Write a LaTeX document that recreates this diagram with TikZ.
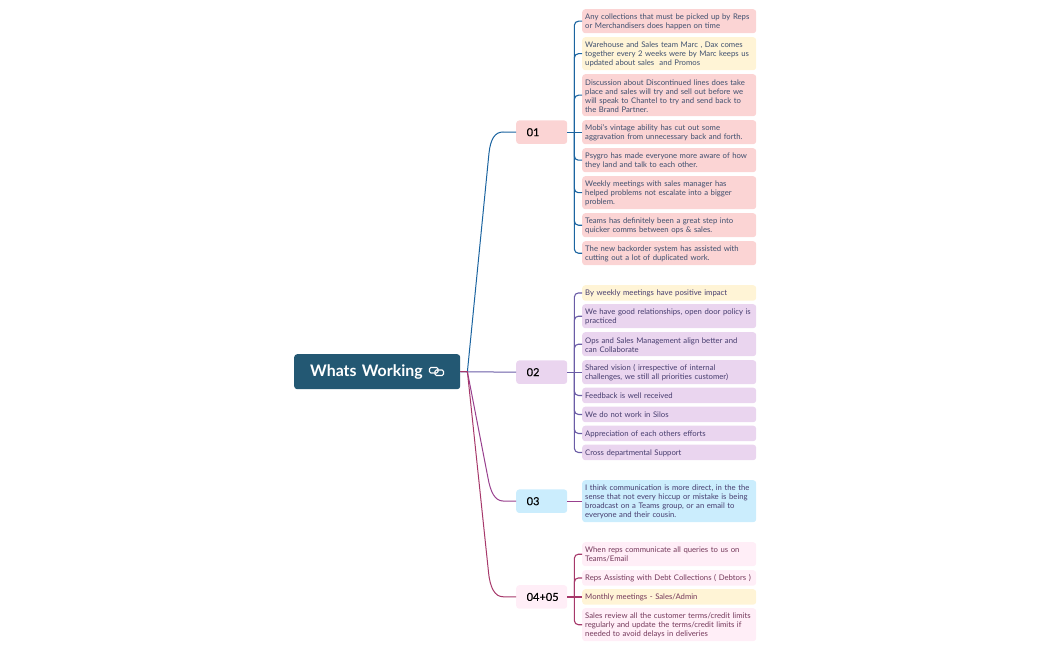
\documentclass[tikz,border=0pt]{standalone}
\usepackage{fontspec}
\setmainfont[WordSpace=0.85]{Lato}
\newfontfamily\topicfont[FakeBold=0.4,WordSpace=0.85]{Lato}
\usetikzlibrary{positioning}
\usetikzlibrary{calc}
\definecolor{rootfill}{HTML}{235873}
\definecolor{redfill}{HTML}{FBD4D4}
\definecolor{yellowfill}{HTML}{FFF4D6}
\definecolor{lilacfill}{HTML}{EAD5EF}
\definecolor{bluefill}{HTML}{CBEDFD}
\definecolor{pinkfill}{HTML}{FFEEF7}
\definecolor{linkblue}{HTML}{1B64A0}
\definecolor{linklilac}{HTML}{6A5CA6}
\definecolor{linkpink}{HTML}{98408E}
\definecolor{linkwine}{HTML}{A6386A}
\definecolor{textblue}{HTML}{3E4F6E}
\definecolor{textlilac}{HTML}{463C6E}
\definecolor{textwine}{HTML}{74385A}
\tikzset{
    leaf/.style={anchor=north west,rounded corners=3pt,minimum width=174pt,text width=168pt,inner xsep=3pt,inner ysep=0pt,align=left,font=\fontsize{7.72}{9}\selectfont,execute at end node={\par\vspace*{-1.2pt}}},
    topic/.style={anchor=north west,rounded corners=3pt,minimum width=51pt,minimum height=23.5pt,text width=30pt,inner xsep=10.5pt,inner ysep=0pt,align=left,text=black,font=\fontsize{11}{12}\topicfont},
    link/.style={line width=1.1pt,rounded corners=4pt},
    trunk/.style={line width=1pt},
    chain/.style={draw=white,line width=1.1pt,rounded corners=1.3pt}
}
\begin{document}
\begin{tikzpicture}[x=1pt,y=-1pt]
    \useasboundingbox (0,0) rectangle (1050,650);
    \node[anchor=north west,fill=rootfill,rounded corners=3pt,minimum width=166pt,minimum height=35pt,text width=134pt,inner xsep=16pt,inner ysep=0pt,align=left,text=white,font=\fontsize{15.9}{18}\selectfont\bfseries,execute at end node={\par\vspace*{-1.5pt}}] (root) at (294,354) {Whats Working};
    \coordinate (ico) at (436.5,371.5);
    \draw[chain] ($(ico)+(-7,-4)$) rectangle ($(ico)+(1.5,1.5)$);
    \draw[chain] ($(ico)+(-1.5,-1.5)$) rectangle ($(ico)+(7,4)$);
    % topics
    \node[topic,fill=redfill] (t1) at (516,120.25) {01};
    \node[topic,fill=lilacfill] (t2) at (516,360.25) {02};
    \node[topic,fill=bluefill] (t3) at (516,489.25) {03};
    \node[topic,fill=pinkfill] (t4) at (516,585) {04+05};
    \coordinate (s1) at ($(t1.east)+(7,0)$);
    \coordinate (s2) at ($(t2.east)+(7,0)$);
    \coordinate (s4) at ($(t4.east)+(7,0)$);
    % leaves of 01
    \node[leaf,fill=redfill,minimum height=24pt,text=textblue] (a1) at (582,9) {Any collections that must be picked up by Reps\\or Merchandisers does happen on time};
    \node[leaf,fill=yellowfill,minimum height=33pt,text=textblue] (a2) at (582,37) {Warehouse and Sales team Marc , Dax comes\\together every 2 weeks were by Marc keeps us\\updated about sales\ \ and Promos};
    \node[leaf,fill=redfill,minimum height=42pt,text=textblue] (a3) at (582,74) {Discussion about Discontinued lines does take\\place and sales will try and sell out before we\\will speak to Chantel to try and send back to\\the Brand Partner.};
    \node[leaf,fill=redfill,minimum height=24pt,text=textblue] (a4) at (582,120) {Mobi's vintage ability has cut out some\\aggravation from unnecessary back and forth.};
    \node[leaf,fill=redfill,minimum height=24pt,text=textblue] (a5) at (582,148) {Psygro has made everyone more aware of how\\they land and talk to each other.};
    \node[leaf,fill=redfill,minimum height=33pt,text=textblue] (a6) at (582,176) {Weekly meetings with sales manager has\\helped problems not escalate into a bigger\\problem.};
    \node[leaf,fill=redfill,minimum height=24pt,text=textblue] (a7) at (582,213) {Teams has definitely been a great step into\\quicker comms between ops \& sales.};
    \node[leaf,fill=redfill,minimum height=24pt,text=textblue] (a8) at (582,241) {The new backorder system has assisted with\\cutting out a lot of duplicated work.};
    % leaves of 02
    \node[leaf,fill=yellowfill,minimum height=15.5pt,text=textlilac] (b1) at (582,285) {By weekly meetings have positive impact};
    \node[leaf,fill=lilacfill,minimum height=24pt,text=textlilac] (b2) at (582,304) {We have good relationships, open door policy is\\practiced};
    \node[leaf,fill=lilacfill,minimum height=24pt,text=textlilac] (b3) at (582,332) {Ops and Sales Management align better and\\can Collaborate};
    \node[leaf,fill=lilacfill,minimum height=24pt,text=textlilac] (b4) at (582,360) {Shared vision ( irrespective of internal\\challenges, we still all priorities customer)};
    \node[leaf,fill=lilacfill,minimum height=15.5pt,text=textlilac] (b5) at (582,387.5) {Feedback is well received};
    \node[leaf,fill=lilacfill,minimum height=15.5pt,text=textlilac] (b6) at (582,406.5) {We do not work in Silos};
    \node[leaf,fill=lilacfill,minimum height=15.5pt,text=textlilac] (b7) at (582,425.5) {Appreciation of each others efforts};
    \node[leaf,fill=lilacfill,minimum height=15.5pt,text=textlilac] (b8) at (582,444.5) {Cross departmental Support};
    % leaf of 03
    \node[leaf,fill=bluefill,minimum height=42pt,text=textlilac] (c1) at (582,480) {I think communication is more direct, in the the\\sense that not every hiccup or mistake is being\\broadcast on a Teams group, or an email to\\everyone and their cousin.};
    % leaves of 04+05
    \node[leaf,fill=pinkfill,minimum height=24pt,text=textwine] (d1) at (582,542) {When reps communicate all queries to us on\\Teams/Email};
    \node[leaf,fill=pinkfill,minimum height=15.5pt,text=textwine] (d2) at (582,570) {Reps Assisting with Debt Collections ( Debtors )};
    \node[leaf,fill=yellowfill,minimum height=15.5pt,text=textwine] (d3) at (582,589) {Monthly meetings - Sales/Admin};
    \node[leaf,fill=pinkfill,minimum height=33pt,text=textwine] (d4) at (582,608) {Sales review all the customer terms/credit limits\\regularly and update the terms/credit limits if\\needed to avoid delays in deliveries};
    % root to topics
    \draw[trunk,linklilac] (root.east) -- (t2.west);
    \draw[trunk,linkblue] (root.east) -- ++(7,0) -- (489,153) .. controls (490.5,139) and (495,132) .. (503,132) -- (t1.west);
    \draw[trunk,linkpink] (root.east) -- ++(7,0) -- (488,478) .. controls (490.5,492) and (495,501) .. (503,501) -- (t3.west);
    \draw[trunk,linkwine] (root.east) -- ++(7,0) -- (488.5,572) .. controls (490,588) and (495,596.75) .. (503,596.75) -- (t4.west);
    % topics to leaves
    \draw[link,linkblue] (t1.east) -- (a4.west);
    \foreach \n in {1,2,3,5,6,7,8}{
      \draw[link,linkblue] (s1) |- (a\n.west);
    }
    \draw[link,linklilac] (t2.east) -- (b4.west);
    \foreach \n in {1,2,3,5,6,7,8}{
      \draw[link,linklilac] (s2) |- (b\n.west);
    }
    \draw[link,linkpink] (t3.east) -- (c1.west);
    \draw[link,linkwine] (t4.east) -- (d3.west);
    \foreach \n in {1,2,4}{
      \draw[link,linkwine] (s4) |- (d\n.west);
    }
\end{tikzpicture}
\end{document}
